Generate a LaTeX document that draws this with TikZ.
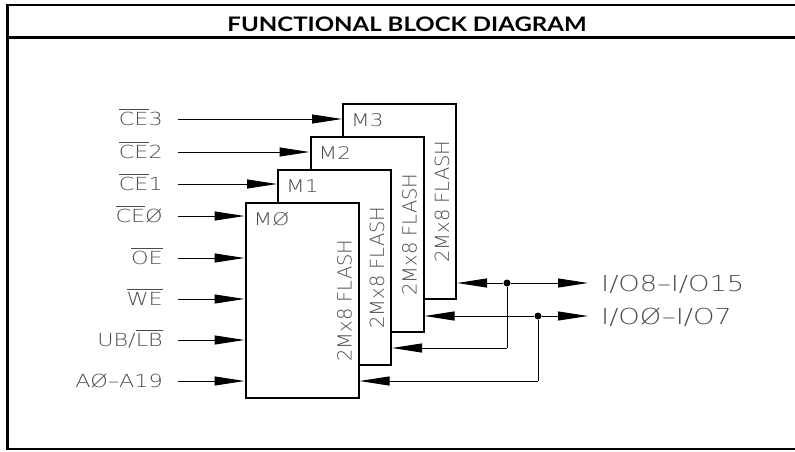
\documentclass[tikz,border=0pt]{standalone}
\usepackage{fontspec}
\usetikzlibrary{arrows.meta}
\IfFontExistsTF{DejaVu Sans ExtraLight}{%
  \newfontfamily\cadw{DejaVu Sans ExtraLight}[FakeStretch=1.24]
  \newfontfamily\cadn{DejaVu Sans ExtraLight}
}{%
  \newfontfamily\cadw{DejaVu Sans}[FakeStretch=1.24]
  \newfontfamily\cadn{DejaVu Sans}
}
\newfontfamily\titlef{Lato}[FakeStretch=1.2]
\definecolor{txt}{gray}{0.3}
\newcommand\ovl[1]{\vbox{\hrule height 0.8pt\kern 2.5pt\hbox{#1}}}
\tikzset{
  blk/.style={draw, line width=2pt, fill=white, minimum width=113pt, minimum height=195pt, inner sep=0pt, anchor=north west},
  arr/.style={line width=1pt, -{Triangle[length=30pt,width=9pt]}},
  conn/.style={line width=1pt},
  lbl/.style={font=\cadw\fontsize{18}{18}\selectfont, text=txt, inner sep=0pt, anchor=base east},
  rlbl/.style={font=\cadw\fontsize{22}{22}\selectfont, text=txt, inner sep=0pt, anchor=base west},
  mlbl/.style={font=\cadw\fontsize{17.5}{17.5}\selectfont, text=txt, inner sep=0pt, anchor=base west},
  flbl/.style={font=\cadn\fontsize{19.5}{19.5}\selectfont, text=txt, inner sep=0pt, rotate=90},
  dot/.style={circle, fill=black, minimum size=7pt, inner sep=0pt},
  frame/.style={line width=2.4pt}
}
\begin{document}
\begin{tikzpicture}[x=1pt,y=-1pt]
\useasboundingbox (0,0) rectangle (795,451);
% frame
\draw[frame] (800,5) -- (7.5,5) -- (7.5,449) -- (800,449);
\draw[frame] (7.5,37.5) -- (800,37.5);
\node[font=\titlef\bfseries\fontsize{20}{20}\selectfont, anchor=base, inner sep=0pt] (title) at (407,31) {FUNCTIONAL BLOCK DIAGRAM};
% blocks (back to front)
\node[blk] (m3) at (342,103) {};
\node[mlbl] (m3t) at ([xshift=9pt,yshift=-23pt]m3.north west) {M3};
\node[flbl] (m3f) at ([xshift=-15pt]m3.east) {2Mx8 FLASH};
\node[blk] (m2) at (309.5,136) {};
\node[mlbl] (m2t) at ([xshift=9pt,yshift=-23pt]m2.north west) {M2};
\node[flbl] (m2f) at ([xshift=-15pt]m2.east) {2Mx8 FLASH};
\node[blk] (m1) at (277,169) {};
\node[mlbl] (m1t) at ([xshift=9pt,yshift=-23pt]m1.north west) {M1};
\node[flbl] (m1f) at ([xshift=-15pt]m1.east) {2Mx8 FLASH};
\node[blk] (m0) at (244.5,202) {};
\node[mlbl] (m0t) at ([xshift=9pt,yshift=-23pt]m0.north west) {MØ};
\node[flbl] (m0f) at ([xshift=-15pt]m0.east) {2Mx8 FLASH};
% left inputs
\coordinate (s1) at (178,119);
\coordinate (s2) at (178,152);
\coordinate (s3) at (178,184);
\coordinate (s4) at (178,216);
\coordinate (s5) at (178,258);
\coordinate (s6) at (178,299);
\coordinate (s7) at (178,340);
\coordinate (s8) at (178,381);
\node[lbl] (l1) at (163,125.5) {\ovl{CE}3};
\node[lbl] (l2) at (163,158.5) {\ovl{CE}2};
\node[lbl] (l3) at (163,190.5) {\ovl{CE}1};
\node[lbl] (l4) at (163,222.5) {\ovl{CE}Ø};
\node[lbl] (l5) at (163,264.5) {\ovl{OE}};
\node[lbl] (l6) at (163,305.5) {\ovl{WE}};
\node[lbl] (l7) at (163,346.5) {UB/\ovl{LB}};
\node[lbl] (l8) at (163,387.5) {AØ–A19};
\draw[arr] (s1) -- (s1 -| m3.west);
\draw[arr] (s2) -- (s2 -| m2.west);
\draw[arr] (s3) -- (s3 -| m1.west);
\draw[arr] (s4) -- (s4 -| m0.west);
\draw[arr] (s5) -- (s5 -| m0.west);
\draw[arr] (s6) -- (s6 -| m0.west);
\draw[arr] (s7) -- (s7 -| m0.west);
\draw[arr] (s8) -- (s8 -| m0.west);
% data buses
\node[dot] (d1) at (507,283) {};
\node[dot] (d2) at (538,316) {};
\coordinate (o1) at (588,283);
\coordinate (o2) at (588,316);
\coordinate (b1) at (507,348);
\coordinate (b2) at (538,381);
\draw[arr] (d1) -- (o1);
\draw[arr] (d2) -- (o2);
\draw[arr] (d1) -- (d1 -| m3.east);
\draw[arr] (d2) -- (d2 -| m2.east);
\draw[conn] (d1) -- (b1);
\draw[conn] (d2) -- (b2);
\draw[arr] (b1) -- (b1 -| m1.east);
\draw[arr] (b2) -- (b2 -| m0.east);
\node[rlbl] (r1) at (601,291) {I/O8–I/O15};
\node[rlbl] (r2) at (601,324) {I/OØ–I/O7};
\end{tikzpicture}
\end{document}
